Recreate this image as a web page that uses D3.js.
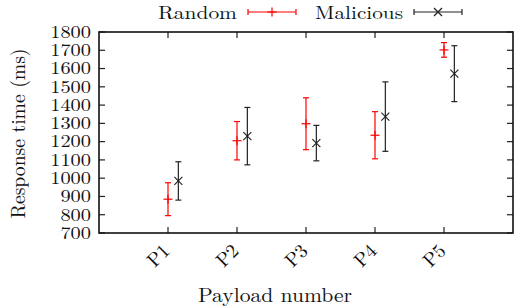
<!DOCTYPE html>
<html>
<head>
<meta charset="utf-8">
<script src="https://cdn.jsdelivr.net/npm/d3@7"></script>
<style>
  body { margin: 0; background: #fff; }
</style>
</head>
<body>
<div id="cont"></div>
<script>
// data //
var payloads = ["P1", "P2", "P3", "P4", "P5"];
var randomMean = [885, 1205, 1298, 1235, 1702];
var randomErr = [90, 105, 142, 129, 40];
var maliciousMean = [985, 1230, 1192, 1337, 1572];
var maliciousErr = [105, 157, 97, 190, 153];
var yTicks = [700, 800, 900, 1000, 1100, 1200, 1300, 1400, 1500, 1600, 1700, 1800];

var W = 514, H = 308;
var m = { left: 99, right: 0, top: 32, bottom: 75 };
var FONT = "'Latin Modern Roman', 'Liberation Serif', serif";

var svg = d3.select("#cont").append("svg").attr("width", W).attr("height", H)
  .attr("font-family", FONT);

var x = d3.scaleLinear().domain([0, 6]).range([m.left, W - 1]);
var y = d3.scaleLinear().domain([700, 1800]).range([H - m.bottom, m.top]);

var g = svg.append("g");

// ticks inside the frame
var idx = d3.range(1, payloads.length + 1);
g.selectAll(".tb").data(idx).enter().append("line")
  .attr("x1", d => x(d)).attr("x2", d => x(d))
  .attr("y1", y(700)).attr("y2", y(700) - 6)
  .attr("stroke", "#222").attr("stroke-width", 1.2);
g.selectAll(".tt").data(idx).enter().append("line")
  .attr("x1", d => x(d)).attr("x2", d => x(d))
  .attr("y1", y(1800)).attr("y2", y(1800) + 6)
  .attr("stroke", "#222").attr("stroke-width", 1.2);
g.selectAll(".tl").data(yTicks).enter().append("line")
  .attr("x1", x(0)).attr("x2", x(0) + 6)
  .attr("y1", d => y(d)).attr("y2", d => y(d))
  .attr("stroke", "#222").attr("stroke-width", 1.2);
g.selectAll(".tr").data(yTicks).enter().append("line")
  .attr("x1", x(6)).attr("x2", x(6) - 6)
  .attr("y1", d => y(d)).attr("y2", d => y(d))
  .attr("stroke", "#222").attr("stroke-width", 1.2);

// frame
g.append("rect")
  .attr("x", x(0)).attr("y", y(1800))
  .attr("width", x(6) - x(0)).attr("height", y(700) - y(1800))
  .attr("fill", "none").attr("stroke", "#111").attr("stroke-width", 1.6);

// y tick labels
g.selectAll(".yl").data(yTicks).enter().append("text")
  .attr("x", x(0) - 8).attr("y", d => y(d)).attr("dy", "0.34em")
  .attr("text-anchor", "end").attr("font-size", 17)
  .attr("textLength", d => String(d).length * 10.2)
  .attr("lengthAdjust", "spacingAndGlyphs")
  .attr("fill", "#111")
  .text(d => d);

// x tick labels
g.selectAll(".xl").data(payloads).enter().append("text")
  .attr("transform", (d, i) => "translate(" + (x(i + 1) + 3) + "," + (y(700) + 19) + ") rotate(-45)")
  .attr("text-anchor", "end").attr("font-size", 19.5)
  .attr("fill", "#111")
  .text(d => d);

// axis titles
svg.append("text")
  .attr("transform", "translate(25," + ((y(700) + y(1800)) / 2 + 1) + ") rotate(-90)")
  .attr("text-anchor", "middle").attr("font-size", 19.5)
  .attr("textLength", 170).attr("lengthAdjust", "spacingAndGlyphs")
  .attr("fill", "#111")
  .text("Response time (ms)");
svg.append("text")
  .attr("x", 275).attr("y", 302)
  .attr("text-anchor", "middle").attr("font-size", 19.5)
  .attr("textLength", 154).attr("lengthAdjust", "spacingAndGlyphs")
  .attr("fill", "#111")
  .text("Payload number");

// error bars
var off = 0.15;
var series = [
  { name: "Random", mean: randomMean, err: randomErr, color: "#f00", dx: 0, mark: "plus" },
  { name: "Malicious", mean: maliciousMean, err: maliciousErr, color: "#222", dx: off, mark: "cross" }
];

function marker(sel, type, color) {
  var s = 4.5;
  if (type === "plus") {
    sel.append("line").attr("x1", -s).attr("x2", s).attr("y1", 0).attr("y2", 0)
      .attr("stroke", color).attr("stroke-width", 1.2);
    sel.append("line").attr("x1", 0).attr("x2", 0).attr("y1", -s).attr("y2", s)
      .attr("stroke", color).attr("stroke-width", 1.2);
  } else {
    s = 4;
    sel.append("line").attr("x1", -s).attr("x2", s).attr("y1", -s).attr("y2", s)
      .attr("stroke", color).attr("stroke-width", 1.2);
    sel.append("line").attr("x1", -s).attr("x2", s).attr("y1", s).attr("y2", -s)
      .attr("stroke", color).attr("stroke-width", 1.2);
  }
}

series.forEach(function(sr) {
  var sg = g.append("g");
  sr.mean.forEach(function(v, i) {
    var cx = x(i + 1 + sr.dx);
    var lo = y(v - sr.err[i]), hi = y(v + sr.err[i]);
    var e = sg.append("g");
    e.append("line").attr("x1", cx).attr("x2", cx).attr("y1", lo).attr("y2", hi)
      .attr("stroke", sr.color).attr("stroke-width", 1.2);
    [lo, hi].forEach(function(yy) {
      e.append("line").attr("x1", cx - 3).attr("x2", cx + 3).attr("y1", yy).attr("y2", yy)
        .attr("stroke", sr.color).attr("stroke-width", 1.2);
    });
    var mk = e.append("g").attr("transform", "translate(" + cx + "," + y(v) + ")");
    marker(mk, sr.mark, sr.color);
  });
});

// legend
var leg = [
  { text: "Random", tx: 237, w: 79, lx1: 248, lx2: 296 },
  { text: "Malicious", tx: 403, w: 88, lx1: 414, lx2: 462 }
];
leg.forEach(function(l, i) {
  var sr = series[i], ly = 12;
  svg.append("text").attr("x", l.tx - l.w).attr("y", 19)
    .attr("font-size", 18.5).attr("fill", "#111")
    .attr("textLength", l.w).attr("lengthAdjust", "spacingAndGlyphs")
    .text(l.text);
  svg.append("line").attr("x1", l.lx1).attr("x2", l.lx2).attr("y1", ly).attr("y2", ly)
    .attr("stroke", sr.color).attr("stroke-width", 1.2);
  [l.lx1, l.lx2].forEach(function(xx) {
    svg.append("line").attr("x1", xx).attr("x2", xx).attr("y1", ly - 3).attr("y2", ly + 3)
      .attr("stroke", sr.color).attr("stroke-width", 1.2);
  });
  var mk = svg.append("g").attr("transform", "translate(" + ((l.lx1 + l.lx2) / 2) + "," + ly + ")");
  marker(mk, sr.mark, sr.color);
});
</script>
</body>
</html>
